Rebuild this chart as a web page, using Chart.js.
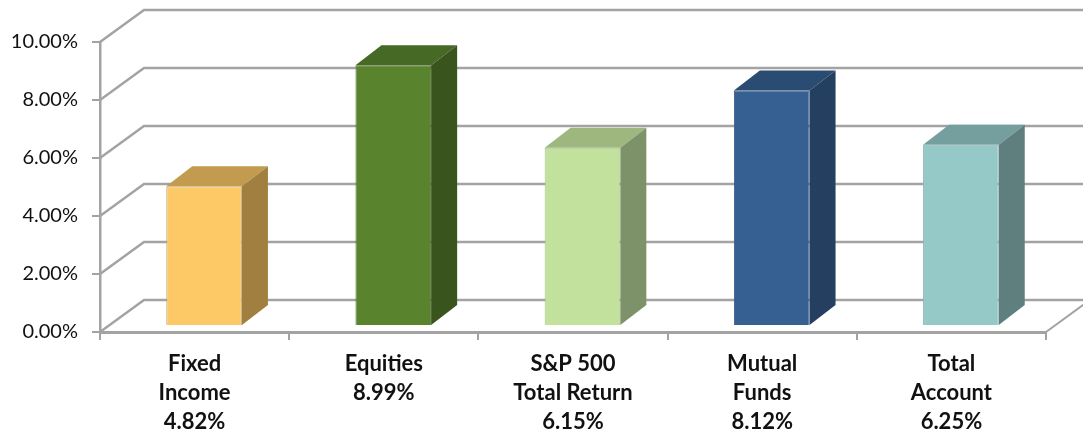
<!DOCTYPE html>
<html>
<head>
<meta charset="utf-8">
<title>Returns</title>
<script src="https://cdn.jsdelivr.net/npm/chart.js@4/dist/chart.umd.min.js"></script>
<style>
    body { margin: 0; background: #fff; }
    canvas { display: block; }
</style>
</head>
<body>
<canvas id="grafico" width="1083" height="433"></canvas>
<script>
const categorias = [['Fixed', 'Income'], ['Equities'], ['S&P 500', 'Total Return'], ['Mutual', 'Funds'], ['Total', 'Account']];
const retornos = [4.82, 8.99, 6.15, 8.12, 6.25];
const coresFrente = ['#fcc966', '#5a832d', '#c2e19d', '#366092', '#95c9c7'];
const coresBorda = ['#bcae86', '#54782f', '#a9bd90', '#345a88', '#8fb5b3'];
const coresTopo = ['#c39b4f', '#466a25', '#9db77f', '#2a4b72', '#749f9e'];
const coresLado = ['#a07f40', '#3a541e', '#7d9269', '#243f60', '#5f7f7f'];

const COR_GRADE = '#a3a3a3';
const PAREDE = { dx: 44, dy: -32 };   // deslocamento da parede do fundo
const BARRA = { dx: 9.5, dy: -6 };    // barra fica um pouco atras do eixo
const FUNDO = { dx: 26, dy: -20 };    // profundidade da barra

function poligono(ctx, pontos, cor) {
    ctx.fillStyle = cor;
    ctx.beginPath();
    pontos.forEach((p, i) => i ? ctx.lineTo(p[0], p[1]) : ctx.moveTo(p[0], p[1]));
    ctx.closePath();
    ctx.fill();
}

const plugin3d = {
    id: 'plugin3d',
    beforeDatasetsDraw(chart) {
        const { ctx, scales, width } = chart;
        const esq = scales.x.left, dir = scales.x.right;

        // --- grade da parede do fundo ---
        ctx.save();
        ctx.strokeStyle = COR_GRADE;
        ctx.lineWidth = 2.5;
        scales.y.ticks.forEach(t => {
            const y = scales.y.getPixelForValue(t.value);
            ctx.beginPath();
            ctx.moveTo(esq, y);
            ctx.lineTo(esq + PAREDE.dx, y + PAREDE.dy);
            ctx.lineTo(width, y + PAREDE.dy);
            ctx.stroke();
        });
        // borda direita do piso
        const y0 = scales.y.getPixelForValue(0);
        ctx.lineWidth = 2;
        ctx.beginPath();
        ctx.moveTo(dir, y0);
        ctx.lineTo(dir + PAREDE.dx, y0 + PAREDE.dy);
        ctx.stroke();

        // --- faces de cima e do lado ---
        ctx.translate(BARRA.dx, BARRA.dy);
        chart.getDatasetMeta(0).data.forEach((barra, i) => {
            const x1 = barra.x - barra.width / 2, x2 = barra.x + barra.width / 2;
            const topo = barra.y, base = barra.base;
            poligono(ctx, [[x1, topo], [x2, topo], [x2 + FUNDO.dx, topo + FUNDO.dy], [x1 + FUNDO.dx, topo + FUNDO.dy]], coresTopo[i]);
            poligono(ctx, [[x2, topo], [x2 + FUNDO.dx, topo + FUNDO.dy], [x2 + FUNDO.dx, base + FUNDO.dy], [x2, base]], coresLado[i]);
        });
        ctx.restore();

        // a face da frente e desenhada pelo proprio Chart.js, deslocada
        ctx.save();
        ctx.translate(BARRA.dx, BARRA.dy);
    },
    afterDatasetsDraw(chart) {
        chart.ctx.restore();
    }
};

new Chart(document.getElementById('grafico'), {
    type: 'bar',
    data: {
        labels: categorias.map((c, i) => [...c, retornos[i].toFixed(2) + '%']),
        datasets: [{
            data: retornos,
            backgroundColor: coresFrente,
            borderColor: coresBorda,
            borderWidth: 1,
            barPercentage: 0.4,
            categoryPercentage: 1,
            clip: false
        }]
    },
    options: {
        responsive: false,
        animation: false,
        layout: { padding: { top: 42, right: 37 } },
        plugins: { legend: { display: false }, tooltip: { enabled: false } },
        scales: {
            x: {
                afterFit(s) { s.height = 101; },
                grid: { drawOnChartArea: false, color: COR_GRADE, lineWidth: 2, tickLength: 8 },
                border: { color: COR_GRADE, width: 3 },
                ticks: {
                    color: '#111',
                    maxRotation: 0,
                    autoSkip: false,
                    padding: 9,
                    font: { family: 'Lato', size: 22, weight: 'bold', lineHeight: 1.32 }
                }
            },
            y: {
                min: 0,
                max: 10,
                afterFit(s) { s.width = 100; },
                grid: { drawOnChartArea: false, color: COR_GRADE, lineWidth: 2, tickLength: 8 },
                border: { color: COR_GRADE, width: 2.5 },
                ticks: {
                    stepSize: 2,
                    color: '#111',
                    padding: 14,
                    font: { family: 'Lato', size: 20 },
                    callback: v => v.toFixed(2) + '%'
                }
            }
        }
    },
    plugins: [plugin3d]
});
</script>
</body>
</html>
